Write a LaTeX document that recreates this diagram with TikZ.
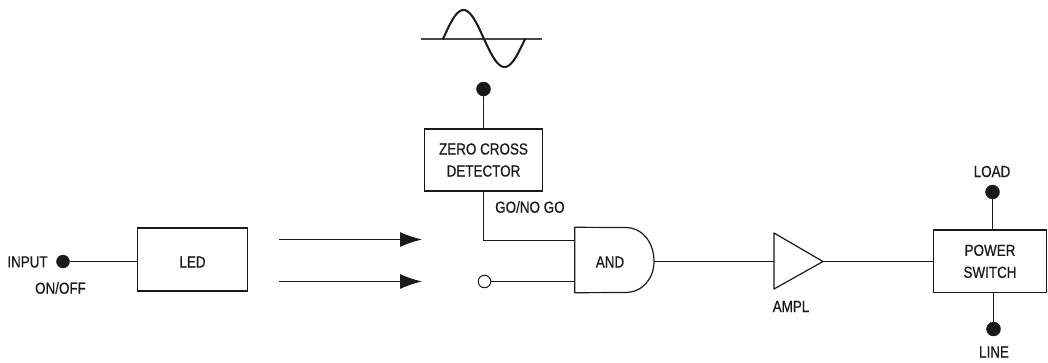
\documentclass[tikz,border=0pt]{standalone}
\usepackage{fontspec}
\setmainfont[FakeStretch=0.84,FakeBold=0.6]{Liberation Sans}
\usetikzlibrary{arrows.meta}
\definecolor{ink}{gray}{0.1}
\tikzset{
  every node/.style={text=ink},
  wire/.style={draw=ink,line width=1.1pt},
  boxnode/.style={draw=ink,line width=1.2pt,inner sep=0pt,align=center,font=\fontsize{16}{22}\selectfont},
  label/.style={inner sep=0pt,font=\fontsize{16}{22}\selectfont},
  dotnode/.style={circle,fill=ink,draw=ink,inner sep=0pt,minimum size=13pt},
  opennode/.style={circle,fill=white,draw=ink,line width=1pt,inner sep=0pt,minimum size=12.5pt},
  ray/.style={wire,-{Latex[length=22pt,width=15pt]}},
}
\begin{document}
\begin{tikzpicture}[x=1pt,y=-1pt]
\useasboundingbox (0,0) rectangle (1048,362);
% boxes
\node[boxnode,minimum width=110.5pt,minimum height=63pt] (led) at (192.5,259.5) {\raisebox{-8pt}[0pt][0pt]{LED}};
\node[boxnode,minimum width=118pt,minimum height=62pt] (zcd) at (483.5,160) {ZERO CROSS\\DETECTOR};
\node[boxnode,minimum width=113.5pt,minimum height=62.5pt] (psw) at (990,261.3) {POWER\\SWITCH};
% terminals
\node[dotnode] (inp) at (63,261.5) {};
\node[dotnode,minimum size=14pt] (top) at (483.5,89) {};
\node[dotnode,minimum size=14pt] (load) at (992.5,192) {};
\node[dotnode,minimum size=14pt] (line) at (993.5,329) {};
\node[opennode] (sw) at (484.5,281.5) {};
% labels
\node[label] (linput) at (27.5,262) {INPUT};
\node[label] (lonoff) at (60.5,288) {ON/OFF};
\node[label,anchor=west] (lgo) at (495,207) {GO/NO GO};
\node[label] (lload) at (992,171.5) {LOAD};
\node[label] (lline) at (994,352) {LINE};
\node[label] (lampl) at (791,306.5) {AMPL};
% AND gate
\node[label,minimum width=79pt,minimum height=65pt] (and) at (614.5,260) {};
\node[label] (landt) at (610,262) {AND};
\coordinate (andout) at (654,261.5);
\draw[wire,line width=1.2pt,line join=round] (and.north west) -- (625,227.5)
  .. controls (643,227.5) and (654,243) .. (andout)
  .. controls (654,278) and (643,292.5) .. (625,292.5) -- (and.south west) -- cycle;
\coordinate (anda) at (575,240.5);
\coordinate (andb) at (575,281.5);
% amplifier
\coordinate (ampa) at (774,233);
\coordinate (ampb) at (774,289);
\coordinate (amptip) at (823,261.5);
\coordinate (ampin) at (774,261.5);
\draw[wire,line width=1.2pt,line join=round] (ampa) -- (amptip) -- (ampb) -- cycle;
% connectors
\draw[wire] (inp) -- (led.west |- inp);
\draw[wire] (top) -- (top |- zcd.north);
\draw[wire] (zcd.south -| top) |- (anda);
\draw[wire] (sw) -- (andb);
\draw[wire] (andout) -- (ampin);
\draw[wire] (amptip) -- (psw.west |- amptip);
\draw[wire] (load) -- (load |- psw.north);
\draw[wire] (line) -- (line |- psw.south);
% light rays
\coordinate (r1a) at (279,239.5); \coordinate (r1b) at (422,239.5);
\coordinate (r2a) at (279,281.5); \coordinate (r2b) at (422,281.5);
\draw[ray] (r1a) -- (r1b);
\draw[ray] (r2a) -- (r2b);
% AC waveform
\coordinate (axa) at (421,39); \coordinate (axb) at (542,39);
\draw[wire,draw=ink!80] (axa) -- (axb);
\draw[ink,line width=2pt,line cap=round] plot[smooth,domain=-180:180,samples=61] ({484+41*\x/180},{39+(\x<0?29:28)*sin(\x)});
\end{tikzpicture}
\end{document}
